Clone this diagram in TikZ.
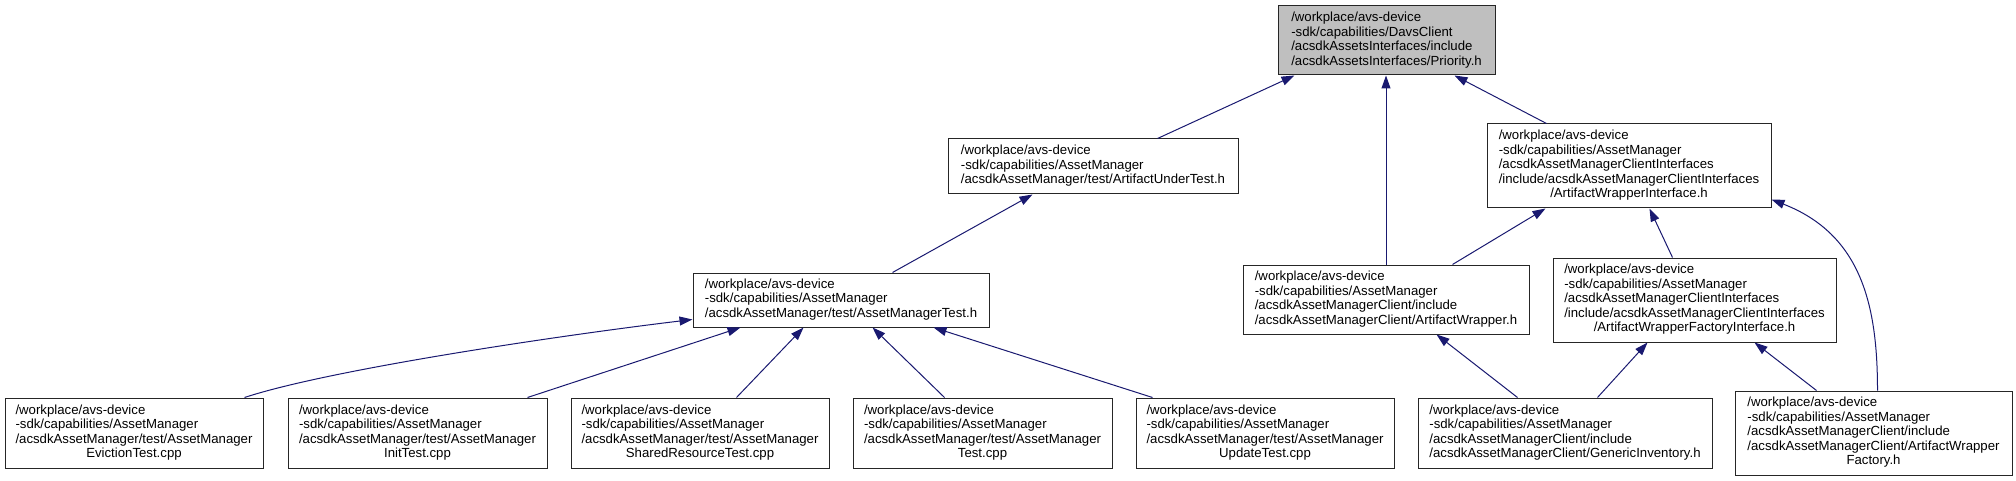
\documentclass[tikz,border=0pt]{standalone}
\usepackage{fontspec}
\setmainfont{Liberation Sans}
\usetikzlibrary{arrows.meta,calc}
\definecolor{edgeblue}{HTML}{191970}
\definecolor{rootgray}{HTML}{BFBFBF}
\newcommand{\lbl}[2]{\begin{tabular}{@{}l@{}}#1\\\multicolumn{1}{@{}c@{}}{#2}\end{tabular}}
\begin{document}
\begin{tikzpicture}[x=1pt,y=-1pt,
  box/.style={draw=black!85, line width=1pt, fill=white, inner sep=0pt,
    font=\fontsize{13.2}{14.5}\selectfont},
  rootbox/.style={box, fill=rootgray},
  dep/.style={draw=edgeblue, line width=1pt, -{Triangle[length=13pt,width=9pt]}}]
\useasboundingbox (0,0) rectangle (2016,481);

% rank 0
\node[rootbox, minimum width=217, minimum height=69] (P) at (1386.5,40.5)
  {\lbl{/workplace/avs-device\\-sdk/capabilities/DavsClient\\/acsdkAssetsInterfaces/include}{/acsdkAssetsInterfaces/Priority.h}};

% rank 1
\node[box, minimum width=290, minimum height=55] (AUT) at (1093,166.5)
  {\lbl{/workplace/avs-device\\-sdk/capabilities/AssetManager}{/acsdkAssetManager/test/ArtifactUnderTest.h}};
\node[box, minimum width=284, minimum height=84] (AWI) at (1629,166)
  {\lbl{/workplace/avs-device\\-sdk/capabilities/AssetManager\\/acsdkAssetManagerClientInterfaces\\/include/acsdkAssetManagerClientInterfaces}{/ArtifactWrapperInterface.h}};

% rank 2
\node[box, minimum width=296, minimum height=54] (AMT) at (841,300)
  {\lbl{/workplace/avs-device\\-sdk/capabilities/AssetManager}{/acsdkAssetManager/test/AssetManagerTest.h}};
\node[box, minimum width=286, minimum height=69] (AW) at (1386,299.5)
  {\lbl{/workplace/avs-device\\-sdk/capabilities/AssetManager\\/acsdkAssetManagerClient/include}{/acsdkAssetManagerClient/ArtifactWrapper.h}};
\node[box, minimum width=283, minimum height=84] (AWFI) at (1694.5,300)
  {\lbl{/workplace/avs-device\\-sdk/capabilities/AssetManager\\/acsdkAssetManagerClientInterfaces\\/include/acsdkAssetManagerClientInterfaces}{/ArtifactWrapperFactoryInterface.h}};

% rank 3
\node[box, minimum width=258, minimum height=70] (E) at (134,433)
  {\lbl{/workplace/avs-device\\-sdk/capabilities/AssetManager\\/acsdkAssetManager/test/AssetManager}{EvictionTest.cpp}};
\node[box, minimum width=259, minimum height=70] (I) at (417.5,433)
  {\lbl{/workplace/avs-device\\-sdk/capabilities/AssetManager\\/acsdkAssetManager/test/AssetManager}{InitTest.cpp}};
\node[box, minimum width=258, minimum height=70] (S) at (700,433)
  {\lbl{/workplace/avs-device\\-sdk/capabilities/AssetManager\\/acsdkAssetManager/test/AssetManager}{SharedResourceTest.cpp}};
\node[box, minimum width=259, minimum height=70] (T) at (982.5,433)
  {\lbl{/workplace/avs-device\\-sdk/capabilities/AssetManager\\/acsdkAssetManager/test/AssetManager}{Test.cpp}};
\node[box, minimum width=258, minimum height=70] (U) at (1265,433)
  {\lbl{/workplace/avs-device\\-sdk/capabilities/AssetManager\\/acsdkAssetManager/test/AssetManager}{UpdateTest.cpp}};
\node[box, minimum width=294, minimum height=70] (GI) at (1565,433)
  {\lbl{/workplace/avs-device\\-sdk/capabilities/AssetManager\\/acsdkAssetManagerClient/include}{/acsdkAssetManagerClient/GenericInventory.h}};
\node[box, minimum width=277, minimum height=84] (F) at (1873.5,433)
  {\lbl{/workplace/avs-device\\-sdk/capabilities/AssetManager\\/acsdkAssetManagerClient/include\\/acsdkAssetManagerClient/ArtifactWrapper}{Factory.h}};

% edges
\draw[dep] ($(AUT.north west)+(210,0)$) -- ($(P.south west)+(17,0)$);
\draw[dep] (AW.north) -- (AW.north |- P.south);
\draw[dep] ($(AWI.north west)+(60,0)$) -- ($(P.south west)+(177,0)$);
\draw[dep] ($(AMT.north west)+(200,0)$) -- ($(AUT.south west)+(85,0)$);
\draw[dep] ($(AW.north west)+(210,0)$) -- ($(AWI.south west)+(59,0)$);
\draw[dep] ($(AWFI.north west)+(120,0)$) -- ($(AWI.south west)+(163,0)$);
\draw[dep] ($(F.north west)+(143,0)$) .. controls ($(F.north west)+(143,-85)$) and ($(F.north west)+(127,-156)$) .. ($(AWI.south east)+(0,-9)$);
\draw[dep] ($(GI.north west)+(100,0)$) -- ($(AW.south west)+(194,0)$);
\draw[dep] ($(GI.north west)+(180,0)$) -- ($(AWFI.south west)+(95,0)$);
\draw[dep] ($(F.north west)+(82,0)$) -- ($(AWFI.south west)+(202,0)$);
\draw[dep] ($(E.north west)+(240,0)$) .. controls ($(E.north west)+(325,-28)$) and ($(AMT.south west)+(-133,8)$) .. ($(AMT.south west)+(0,-8)$);
\draw[dep] ($(I.north west)+(240,0)$) -- ($(AMT.south west)+(48,0)$);
\draw[dep] ($(S.north west)+(166,0)$) -- ($(AMT.south west)+(111,0)$);
\draw[dep] ($(T.north west)+(92,0)$) -- ($(AMT.south west)+(180,0)$);
\draw[dep] ($(U.north west)+(17,0)$) -- ($(AMT.south west)+(241,0)$);
\end{tikzpicture}
\end{document}
